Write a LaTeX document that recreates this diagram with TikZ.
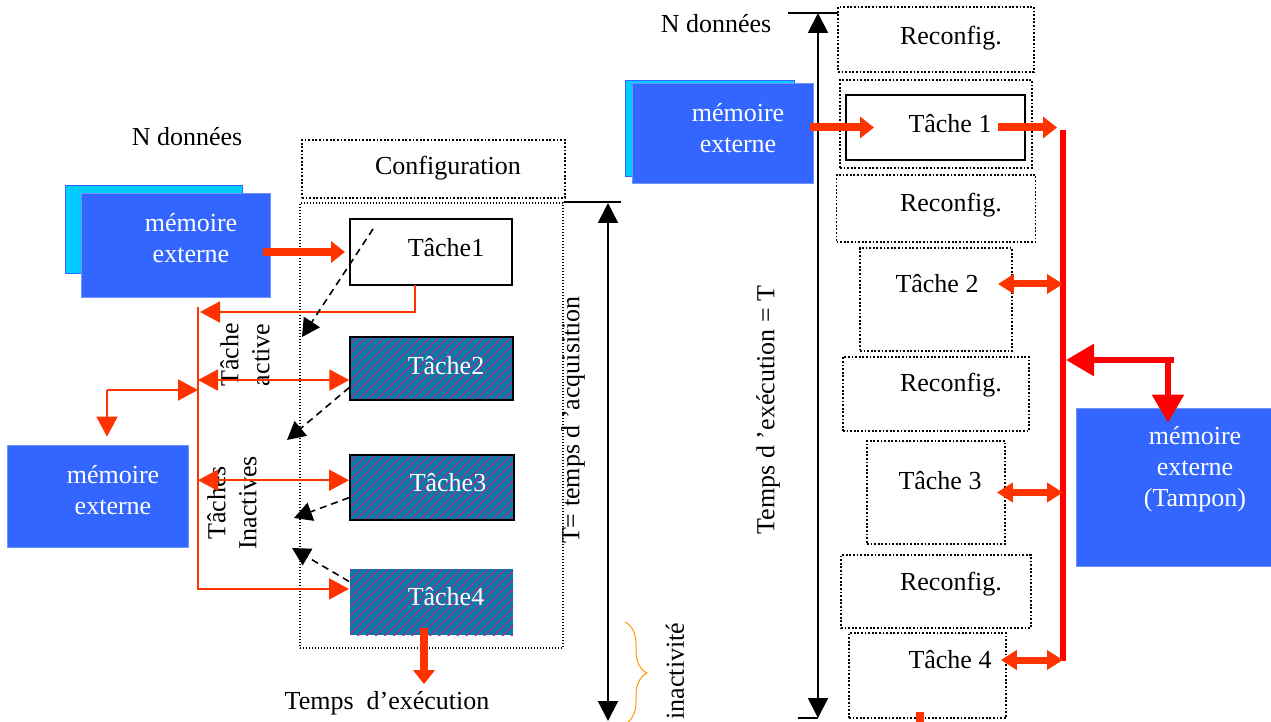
\documentclass[tikz,border=0pt]{standalone}
\usepackage{fontspec}
\setmainfont{Liberation Serif}
\usetikzlibrary{arrows.meta,patterns.meta,decorations.pathreplacing}

\definecolor{memblue}{RGB}{51,102,255}
\definecolor{memcyan}{RGB}{0,204,255}
\definecolor{arrowred}{RGB}{255,51,0}
\definecolor{busred}{RGB}{255,0,0}
\definecolor{hatchbg}{RGB}{0,128,160}
\definecolor{hatchline}{RGB}{170,40,170}
\definecolor{braceorange}{RGB}{255,153,0}

\begin{document}
\begin{tikzpicture}[x=0.5pt, y=-0.5pt, font=\fontsize{13}{15.5}\selectfont,
  every text node part/.style={align=center},
  memory/.style={fill=memblue, draw=memblue!70!white, inner sep=0pt},
  memory shadow/.style={fill=memcyan, draw=memblue, inner sep=0pt},
  dotted box/.style={draw, line width=0.9pt, dash pattern=on 0.9pt off 0.9pt, inner sep=0pt},
  thin dotted box/.style={draw, line width=0.6pt, dash pattern=on 0.6pt off 0.9pt, inner sep=0pt},
  task box/.style={draw, line width=1pt, fill=white, inner sep=0pt},
  hatched box/.style={draw, line width=1pt, inner sep=0pt, preaction={fill=hatchbg},
    pattern={Lines[angle=45,distance=3.2pt,line width=0.7pt]}, pattern color=hatchline},
  thin red/.style={arrowred, line width=1pt},
  thin red end/.style={thin red, >={Triangle[length=10pt,width=10.5pt]}, ->},
  thin red both/.style={thin red, >={Triangle[length=10pt,width=10.5pt]}, <->},
  fat red/.style={arrowred, line width=4pt, >={Triangle[length=7pt,width=10.5pt]}, ->},
  fat both/.style={arrowred, line width=3.5pt, >={Triangle[length=8pt,width=9.5pt]}, <->},
  bus line/.style={busred, line width=3pt},
  bus arrow/.style={busred, line width=3pt, >={Triangle[length=14pt,width=15.5pt]}, ->},
  dash arrow/.style={line width=0.8pt, dash pattern=on 3.5pt off 2.5pt, >={Triangle[length=9pt,width=9.5pt]}, ->},
  black both/.style={line width=1pt, >={Triangle[length=10pt,width=10pt]}, <->},
  idle brace/.style={braceorange, line width=0.5pt, decorate, decoration={brace, amplitude=11pt}}]

\useasboundingbox (0,0) rectangle (1271,722);

% left: one configuration, four tasks
\node (n left) at (187,137) {N données};
\node[memory shadow, minimum width=88.5pt, minimum height=44pt] (mem1 shadow) at (153.5,229) {};
\node[memory, minimum width=94.5pt, minimum height=52pt] (mem1) at (175.5,245) {};
\node[text=white] (mem1 label) at (191,238) {mémoire\\externe};

\node[dotted box, minimum width=131.5pt, minimum height=29pt] (config) at (433.5,169) {};
\node (config label) at (448,168) {Configuration};
\node[thin dotted box, minimum width=131.5pt, minimum height=222.5pt] (acq) at (431.5,425.5) {};

\node[task box, minimum width=81pt, minimum height=33pt] (t1) at (431,252) {};
\node (t1 label) at (446,248) {Tâche1};
\node[hatched box, minimum width=81.5pt, minimum height=31.5pt] (t2) at (431.5,368.5) {};
\node[text=white] (t2 label) at (446,366) {Tâche2};
\node[hatched box, minimum width=82pt, minimum height=32.5pt] (t3) at (432,487.5) {};
\node[text=white] (t3 label) at (448,483) {Tâche3};
\node[hatched box, draw=none, minimum width=81.5pt, minimum height=33pt] (t4) at (431.5,602) {};
\node[text=white] (t4 label) at (446,597) {Tâche4};

\node[memory, minimum width=90.5pt, minimum height=51pt] (mem2) at (97.5,496) {};
\node[text=white] (mem2 label) at (113,490) {mémoire\\externe};

\node[rotate=90] (active label) at (245,355) {Tâche\\active};
\node[rotate=90] (idle tasks label) at (232,503) {Tâches\\Inactives};

\coordinate (bus top) at (198,307);
\coordinate (bus bottom) at (198,590);
\coordinate (t1 drop) at (415,285);
\coordinate (t1 back) at (200,312);
\coordinate (split) at (107,390);
\draw[thin red] (bus top) -- (bus bottom);
\draw[fat red, shorten <=-3.5pt, shorten >=2pt] (mem1.east |- t1.west) -- (t1.west);
\draw[thin red end] (t1 drop) |- (t1 back);
\draw[thin red both] (t2.188 -| bus top) -- (t2.188);
\draw[thin red both] (t3.175 -| bus top) -- (t3.175);
\draw[thin red end] (t4.171 -| bus top) -- (t4.171);
\draw[thin red end] (split) -- (split -| bus top);
\draw[thin red end, shorten >=4pt] (split) -- (mem2.north -| split);

\coordinate (gap 1) at (302,337);
\coordinate (gap 2) at (287,440);
\coordinate (gap 3) at (294,518);
\coordinate (gap 4) at (292,548);
\draw[dash arrow] ([shift={(24,11)}]t1.north west) -- (gap 1);
\draw[dash arrow] (t2.193) -- (gap 2);
\draw[dash arrow] (t3.187) -- (gap 3);
\draw[dash arrow] (t4.166) -- (gap 4);

\node (exec) at (387,703) {Temps\ \ d’exécution};
\coordinate (t4 out) at (424,628);
\draw[fat red] (t4 out) -- (t4 out |- exec.north);

\coordinate (acq top) at (608,203);
\coordinate (acq bottom) at (608,721);
\draw[line width=1pt] (acq.north east) -- ++(57,0);
\draw[black both] (acq top) -- (acq bottom);
\node[rotate=90] (acq label) at (573,420) {T= temps d ’acquisition};

\coordinate (idle top) at (625,622);
\coordinate (idle bottom) at (625,724);
\draw[idle brace] (idle top) -- (idle bottom);
\node[rotate=90] (idle label) at (675,671) {inactivité};

% right: reconfiguration between tasks
\node (n right) at (716,24) {N données};
\coordinate (run top) at (818,13);
\coordinate (run bottom) at (818,718);
\draw[line width=1pt] ([xshift=-15pt]run top) -- ([xshift=10pt]run top);
\draw[black both] (run top) -- (run bottom);
\draw[line width=1pt] (run bottom) -- ++(-20,0);
\node[rotate=90] (run label) at (768,410) {Temps d ’exécution = T};

\node[memory shadow, minimum width=84.5pt, minimum height=48pt] (mem3 shadow) at (709.5,128) {};
\node[memory, minimum width=90.5pt, minimum height=50pt] (mem3) at (722.5,133) {};
\node[text=white] (mem3 label) at (738,128) {mémoire\\externe};

\foreach \n/\y/\w/\h/\ty in {1/39.5/98/32.5/38, 2/208.5/99.5/33.5/205, 3/394/93/37/385, 4/591.5/95/36.5/584} {
  \node[dotted box, minimum width=\w pt, minimum height=\h pt] (rc\n) at (936,\y) {};
  \node (rc\n\space label) at (951,\ty) {Reconfig.};
}

\node[dotted box, minimum width=96pt, minimum height=44pt] (tk1) at (936,124) {};
\node[task box, minimum width=89.5pt, minimum height=32.5pt] (tk1 in) at (935.5,127.5) {};
\node (tk1 label) at (950,124) {Tâche 1};
\node[dotted box, minimum width=76pt, minimum height=51.5pt] (tk2) at (936,299.5) {};
\node (tk2 label) at (937,284) {Tâche 2};
\node[dotted box, minimum width=69pt, minimum height=51.5pt] (tk3) at (936,492.5) {};
\node (tk3 label) at (940,481) {Tâche 3};
\node[dotted box, minimum width=78.5pt, minimum height=42.5pt] (tk4) at (927.5,675.5) {};
\node (tk4 label) at (950,660) {Tâche 4};

\node[memory, minimum width=97.5pt, minimum height=79pt] (tampon) at (1173.5,487) {};
\node[text=white] (tampon label) at (1195,469) {mémoire\\externe\\(Tampon)};

\coordinate (bus2 top) at (1063,130);
\coordinate (bus2 bottom) at (1063,661);
\coordinate (tap) at (1168,360);
\draw[bus line] (bus2 top) -- (bus2 bottom);
\draw[fat red, shorten <=-1.5pt] (mem3.east |- tk1 in.west) -- ([xshift=14.5pt]tk1 in.west);
\draw[fat red, shorten >=3pt] ([xshift=-14pt]tk1 in.east) -- (tk1 in.east -| bus2 top);
\draw[fat both, shorten <=-7.5pt] (tk2.east |- tk2 label) -- (tk2 label -| bus2 top);
\draw[fat both, shorten <=-4.5pt] (tk3.east) -- (tk3.east -| bus2 top);
\draw[fat both, shorten <=-3pt] (tk4.east |- tk4 label) -- (tk4 label -| bus2 top);
\draw[bus arrow, shorten >=1.5pt] ([xshift=3pt]tap) -- (tap -| bus2 top);
\draw[bus arrow, shorten >=-7.5pt] (tap) -- (tap |- tampon.north);
\fill[arrowred] ([shift={(-12,-7)}]tk4.south) rectangle ++(8,11);

\end{tikzpicture}
\end{document}
